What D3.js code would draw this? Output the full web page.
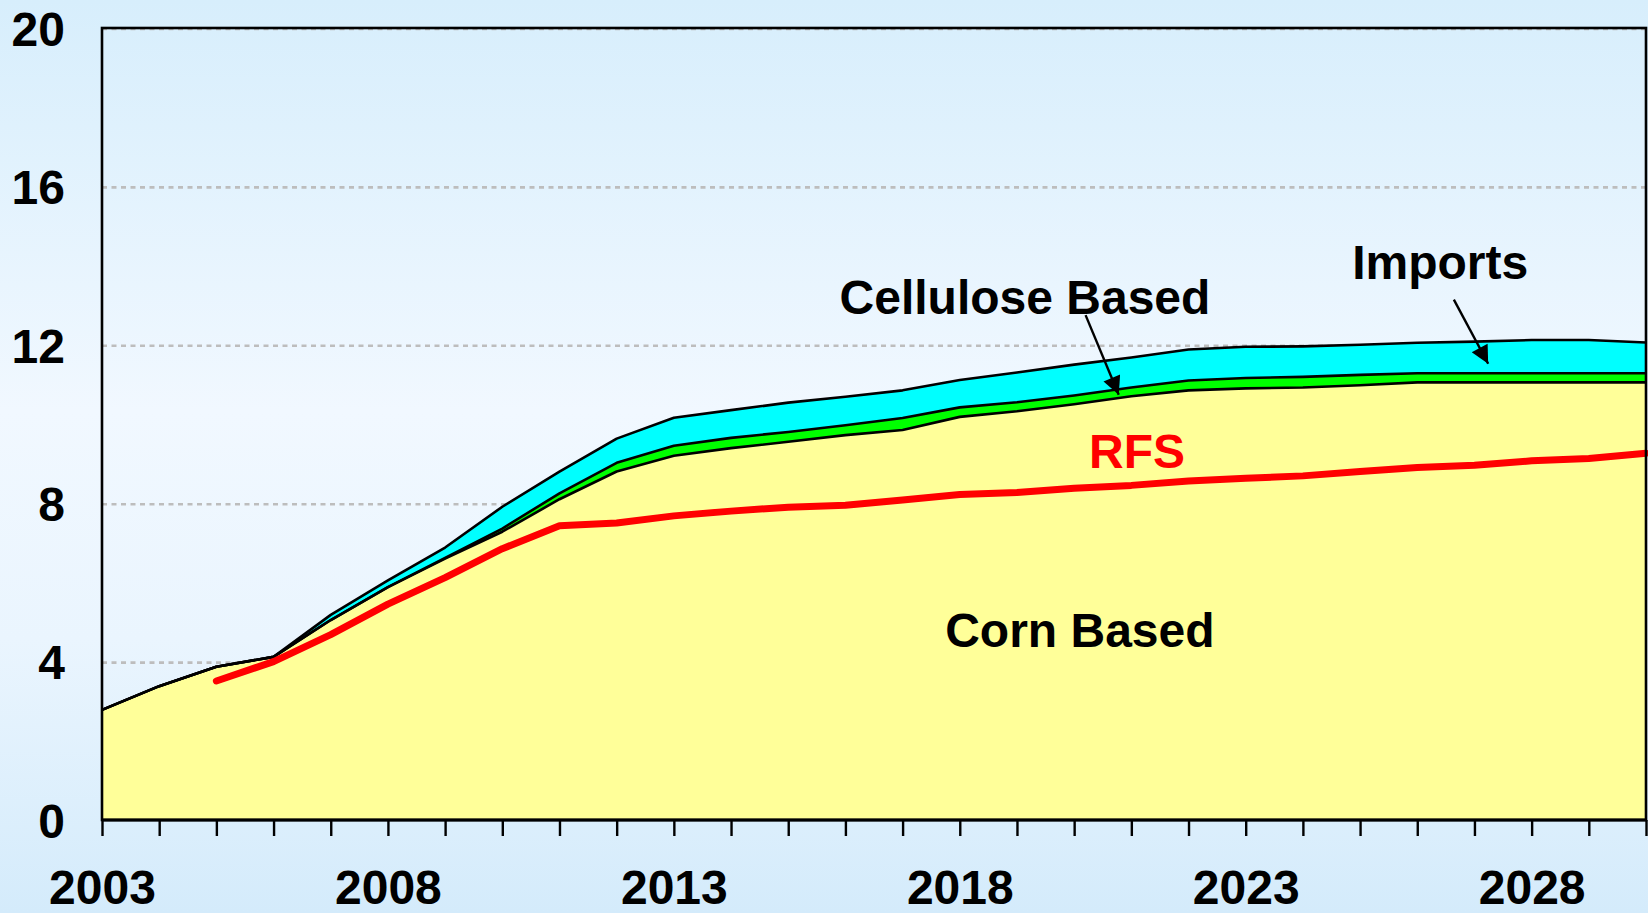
<!DOCTYPE html>
<html>
<head>
<meta charset="utf-8">
<script src="https://cdn.jsdelivr.net/npm/d3@7/dist/d3.min.js"></script>
<style>
  html, body { margin: 0; padding: 0; background: #e4f3fd; }
  svg { display: block; }
  text { font-family: "Liberation Sans", Arial, sans-serif; font-weight: bold; }
</style>
</head>
<body>
<svg id="chart" width="1648" height="913"></svg>
<script>
// ---------- DATA ----------
const years = d3.range(2003, 2031);
const cornBased = [2.78, 3.38, 3.87, 4.12, 5.05, 5.88, 6.60, 7.28, 8.10, 8.80, 9.20, 9.39, 9.55, 9.72, 9.85, 10.18, 10.32, 10.50, 10.70, 10.85, 10.90, 10.92, 10.98, 11.05, 11.05, 11.05, 11.05, 11.05];
const celluloseBased = [0, 0, 0, 0, 0, 0, 0.02, 0.08, 0.15, 0.22, 0.25, 0.26, 0.25, 0.25, 0.30, 0.24, 0.23, 0.22, 0.22, 0.25, 0.26, 0.27, 0.26, 0.23, 0.23, 0.23, 0.23, 0.23];
const imports = [0, 0, 0, 0, 0.13, 0.17, 0.26, 0.55, 0.55, 0.61, 0.71, 0.70, 0.74, 0.72, 0.70, 0.69, 0.75, 0.78, 0.76, 0.78, 0.79, 0.77, 0.76, 0.77, 0.80, 0.84, 0.84, 0.78];
const rfsYears = d3.range(2005, 2031);
const rfs = [3.51, 4.00, 4.68, 5.45, 6.12, 6.85, 7.43, 7.50, 7.68, 7.80, 7.90, 7.95, 8.08, 8.22, 8.27, 8.38, 8.45, 8.56, 8.63, 8.69, 8.80, 8.90, 8.96, 9.07, 9.13, 9.26];
const yTicks = [0, 4, 8, 12, 16, 20];
const xLabelYears = [2003, 2008, 2013, 2018, 2023, 2028];
const seriesKeys = ["corn", "cellulose", "imports"];
const seriesColors = ["#ffff99", "#00ff00", "#00ffff"];
// annotations in data units: [text, x(year), y(value), color]
const labels = [
  ["Cellulose Based", 2019.14, 12.78, "#000"],
  ["Imports", 2026.4, 13.65, "#000"],
  ["RFS", 2021.1, 8.88, "#ff0000"],
  ["Corn Based", 2020.1, 4.37, "#000"]
];
// arrows: [fromYear, fromValue, toYear, toValue]
const arrows = [
  [2020.2, 12.75, 2020.78, 10.74],
  [2026.64, 13.14, 2027.24, 11.52]
];

// ---------- LAYOUT ----------
const W = 1648, H = 913;
const margin = { left: 102, right: 2, top: 28, bottom: 93 };
const svg = d3.select("#chart");

const defs = svg.append("defs");
const grad = defs.append("linearGradient").attr("id", "bg").attr("x1", 0).attr("y1", 0).attr("x2", 0).attr("y2", 1);
grad.append("stop").attr("offset", "0%").attr("stop-color", "#d7eefc");
grad.append("stop").attr("offset", "45%").attr("stop-color", "#f1f8ff");
grad.append("stop").attr("offset", "70%").attr("stop-color", "#eaf5fe");
grad.append("stop").attr("offset", "100%").attr("stop-color", "#d4ebfb");
svg.append("rect").attr("width", W).attr("height", H).attr("fill", "url(#bg)");

const x = d3.scaleLinear().domain([2003, 2030]).range([margin.left, W - margin.right]);
const y = d3.scaleLinear().domain([0, 20]).range([H - margin.bottom, margin.top]);

// gridlines
svg.append("g").selectAll("line").data(yTicks.filter(d => d > 0)).join("line")
  .attr("x1", x(2003)).attr("x2", x(2030))
  .attr("y1", d => y(d) + 1).attr("y2", d => y(d) + 1)
  .attr("stroke", "#bdbdbd").attr("stroke-width", 2.6).attr("stroke-dasharray", "5,4.5");

// stacked data
const table = years.map((yr, i) => ({ year: yr, corn: cornBased[i], cellulose: celluloseBased[i], imports: imports[i] }));
const stacked = d3.stack().keys(seriesKeys)(table);

const area = d3.area().x(d => x(d.data.year)).y0(d => y(d[0])).y1(d => y(d[1]));
const topLine = d3.line().x(d => x(d.data.year)).y(d => y(d[1]));

svg.append("g").selectAll("path").data(stacked).join("path")
  .attr("d", area).attr("fill", (d, i) => seriesColors[i]);

svg.append("g").selectAll("path").data(stacked).join("path")
  .attr("d", topLine).attr("fill", "none").attr("stroke", "#000")
  .attr("stroke-width", 2.6).attr("stroke-linejoin", "round");

// RFS line
const rfsLine = d3.line().x(d => x(d[0])).y(d => y(d[1]));
svg.append("path").datum(rfsYears.map((yr, i) => [yr, rfs[i]]))
  .attr("d", rfsLine).attr("fill", "none").attr("stroke", "#ff0000")
  .attr("stroke-width", 7).attr("stroke-linecap", "round").attr("stroke-linejoin", "round");

// frame
svg.append("rect")
  .attr("x", x(2003)).attr("y", y(20)).attr("width", x(2030) - x(2003)).attr("height", y(0) - y(20))
  .attr("fill", "none").attr("stroke", "#000").attr("stroke-width", 2.6);
svg.append("line").attr("x1", x(2003)).attr("x2", x(2030)).attr("y1", y(0)).attr("y2", y(0))
  .attr("stroke", "#000").attr("stroke-width", 3);

// x axis ticks
const xAxis = d3.axisBottom(x).tickValues(years).tickSize(16).tickFormat(d => xLabelYears.includes(d) ? d : "");
const gx = svg.append("g").attr("transform", `translate(0,${y(0)})`).call(xAxis);
gx.select(".domain").remove();
gx.selectAll(".tick line").attr("stroke", "#000").attr("stroke-width", 2.4);
gx.selectAll(".tick text").attr("font-size", 48).attr("fill", "#000").attr("dy", 0).attr("y", 84)
  .style("font-family", '"Liberation Sans", Arial, sans-serif').style("font-weight", "bold");

// y axis labels
const yAxis = d3.axisLeft(y).tickValues(yTicks).tickSize(0).tickPadding(37);
const gy = svg.append("g").attr("transform", `translate(${x(2003)},0)`).call(yAxis);
gy.select(".domain").remove();
gy.selectAll(".tick text").attr("font-size", 48).attr("fill", "#000").attr("dy", "0.36em")
  .style("font-family", '"Liberation Sans", Arial, sans-serif').style("font-weight", "bold");

// arrowheads
defs.append("marker").attr("id", "arrow").attr("viewBox", "0 0 10 10")
  .attr("refX", 10).attr("refY", 5).attr("markerWidth", 9).attr("markerHeight", 7.5)
  .attr("markerUnits", "strokeWidth").attr("orient", "auto")
  .append("path").attr("d", "M0,0 L10,5 L0,10 Z").attr("fill", "#000");

svg.append("g").selectAll("line").data(arrows).join("line")
  .attr("x1", d => x(d[0])).attr("y1", d => y(d[1]))
  .attr("x2", d => x(d[2])).attr("y2", d => y(d[3]))
  .attr("stroke", "#000").attr("stroke-width", 2.4).attr("marker-end", "url(#arrow)");

// labels
svg.append("g").selectAll("text").data(labels).join("text")
  .attr("x", d => x(d[1])).attr("y", d => y(d[2]))
  .attr("text-anchor", "middle").attr("font-size", 48).attr("fill", d => d[3])
  .text(d => d[0]);
</script>
</body>
</html>
